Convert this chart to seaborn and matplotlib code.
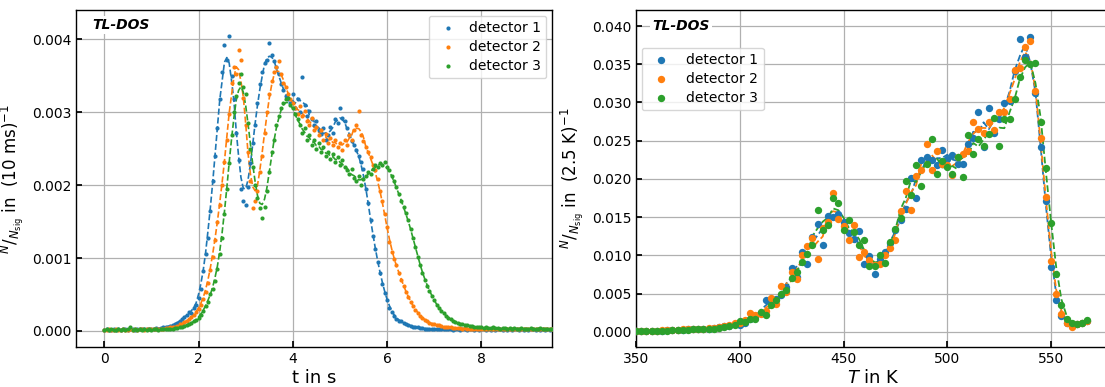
import numpy as np
import pandas as pd
import matplotlib
matplotlib.use("Agg")
import matplotlib.pyplot as plt
import seaborn as sns

# ---------------------------------------------------------------- data
# time-resolved signal, 50 ms sampling grid (s)
t_s = np.arange(191) * 0.05

det1_t = [
    0.00001, 0.00002, 0.00001, 0.00001, 0.00002, 0.00001, 0.00002, 0.00001, 0.00002, 0.00002,
    0.00001, 0.00002, 0.00002, 0.00001, 0.00002, 0.00002, 0.00002, 0.00003, 0.00002, 0.00002,
    0.00003, 0.00003, 0.00004, 0.00003, 0.00004, 0.00005, 0.00005, 0.00006, 0.00007, 0.00008,
    0.00009, 0.00011, 0.00013, 0.00016, 0.00019, 0.00022, 0.00026, 0.00024, 0.00031, 0.00036,
    0.00045, 0.00057, 0.00082, 0.00105, 0.00128, 0.00165, 0.00205, 0.00240, 0.00278, 0.00318,
    0.00355, 0.00392, 0.00372, 0.00405, 0.00350, 0.00318, 0.00272, 0.00235, 0.00195, 0.00178,
    0.00172, 0.00198, 0.00230, 0.00258, 0.00282, 0.00312, 0.00338, 0.00355, 0.00368, 0.00372,
    0.00395, 0.00378, 0.00370, 0.00362, 0.00352, 0.00338, 0.00330, 0.00322, 0.00318, 0.00312,
    0.00325, 0.00305, 0.00318, 0.00300, 0.00348, 0.00310, 0.00295, 0.00302, 0.00290, 0.00282,
    0.00288, 0.00275, 0.00270, 0.00278, 0.00262, 0.00268, 0.00280, 0.00272, 0.00290, 0.00285,
    0.00305, 0.00292, 0.00288, 0.00278, 0.00268, 0.00260, 0.00255, 0.00248, 0.00240, 0.00232,
    0.00222, 0.00195, 0.00175, 0.00152, 0.00130, 0.00112, 0.00095, 0.00080, 0.00065, 0.00052,
    0.00042, 0.00032, 0.00026, 0.00021, 0.00017, 0.00014, 0.00013, 0.00011, 0.00010, 0.00008,
    0.00007, 0.00006, 0.00006, 0.00005, 0.00004, 0.00004, 0.00003, 0.00003, 0.00003, 0.00002,
    0.00002, 0.00003, 0.00002, 0.00002, 0.00003, 0.00002, 0.00002, 0.00002, 0.00001, 0.00002,
    0.00002, 0.00001, 0.00002, 0.00002, 0.00001, 0.00002, 0.00002, 0.00001, 0.00002, 0.00001,
    0.00002, 0.00002, 0.00001, 0.00002, 0.00001, 0.00002, 0.00001, 0.00002, 0.00002, 0.00001,
    0.00002, 0.00001, 0.00002, 0.00001, 0.00002, 0.00002, 0.00001, 0.00002, 0.00001, 0.00002,
    0.00001, 0.00002, 0.00002, 0.00001, 0.00002, 0.00001, 0.00002, 0.00001, 0.00002, 0.00001,
    0.00002,
]

det2_t = [
    0.00001, 0.00001, 0.00002, 0.00001, 0.00001, 0.00002, 0.00001, 0.00001, 0.00002, 0.00001,
    0.00001, 0.00002, 0.00001, 0.00002, 0.00001, 0.00002, 0.00002, 0.00001, 0.00002, 0.00002,
    0.00002, 0.00002, 0.00003, 0.00002, 0.00003, 0.00003, 0.00004, 0.00004, 0.00005, 0.00005,
    0.00006, 0.00007, 0.00009, 0.00010, 0.00012, 0.00014, 0.00016, 0.00019, 0.00022, 0.00026,
    0.00030, 0.00036, 0.00044, 0.00054, 0.00066, 0.00084, 0.00102, 0.00125, 0.00150, 0.00172,
    0.00200, 0.00232, 0.00262, 0.00298, 0.00340, 0.00362, 0.00352, 0.00385, 0.00372, 0.00320,
    0.00282, 0.00245, 0.00205, 0.00168, 0.00178, 0.00192, 0.00218, 0.00240, 0.00272, 0.00300,
    0.00325, 0.00342, 0.00355, 0.00362, 0.00370, 0.00352, 0.00340, 0.00335, 0.00325, 0.00318,
    0.00312, 0.00305, 0.00298, 0.00308, 0.00295, 0.00302, 0.00288, 0.00282, 0.00292, 0.00275,
    0.00280, 0.00268, 0.00275, 0.00262, 0.00270, 0.00258, 0.00265, 0.00255, 0.00262, 0.00252,
    0.00258, 0.00248, 0.00262, 0.00255, 0.00268, 0.00262, 0.00275, 0.00282, 0.00302, 0.00268,
    0.00260, 0.00252, 0.00245, 0.00238, 0.00228, 0.00220, 0.00208, 0.00192, 0.00178, 0.00160,
    0.00142, 0.00122, 0.00108, 0.00098, 0.00090, 0.00080, 0.00070, 0.00062, 0.00054, 0.00046,
    0.00040, 0.00034, 0.00029, 0.00025, 0.00021, 0.00018, 0.00015, 0.00013, 0.00011, 0.00010,
    0.00009, 0.00008, 0.00008, 0.00007, 0.00006, 0.00006, 0.00005, 0.00005, 0.00004, 0.00004,
    0.00004, 0.00004, 0.00003, 0.00004, 0.00003, 0.00003, 0.00003, 0.00002, 0.00003, 0.00003,
    0.00002, 0.00003, 0.00002, 0.00003, 0.00002, 0.00002, 0.00003, 0.00002, 0.00002, 0.00003,
    0.00002, 0.00002, 0.00003, 0.00002, 0.00002, 0.00003, 0.00002, 0.00002, 0.00002, 0.00003,
    0.00002, 0.00002, 0.00003, 0.00002, 0.00002, 0.00002, 0.00003, 0.00002, 0.00002, 0.00002,
    0.00002,
]

det3_t = [
    0.00001, 0.00002, 0.00001, 0.00002, 0.00001, 0.00001, 0.00002, 0.00001, 0.00002, 0.00001,
    0.00002, 0.00006, 0.00001, 0.00002, 0.00001, 0.00002, 0.00001, 0.00002, 0.00001, 0.00002,
    0.00001, 0.00002, 0.00002, 0.00001, 0.00002, 0.00002, 0.00003, 0.00002, 0.00003, 0.00003,
    0.00004, 0.00004, 0.00005, 0.00006, 0.00007, 0.00008, 0.00009, 0.00011, 0.00013, 0.00015,
    0.00018, 0.00022, 0.00028, 0.00034, 0.00040, 0.00050, 0.00058, 0.00068, 0.00085, 0.00105,
    0.00128, 0.00160, 0.00195, 0.00230, 0.00268, 0.00300, 0.00322, 0.00340, 0.00352, 0.00335,
    0.00325, 0.00285, 0.00250, 0.00225, 0.00200, 0.00182, 0.00168, 0.00155, 0.00170, 0.00192,
    0.00218, 0.00245, 0.00262, 0.00282, 0.00295, 0.00305, 0.00312, 0.00318, 0.00320, 0.00310,
    0.00305, 0.00298, 0.00290, 0.00282, 0.00272, 0.00278, 0.00262, 0.00268, 0.00255, 0.00262,
    0.00250, 0.00258, 0.00245, 0.00252, 0.00240, 0.00246, 0.00236, 0.00242, 0.00232, 0.00238,
    0.00228, 0.00234, 0.00225, 0.00220, 0.00215, 0.00222, 0.00210, 0.00205, 0.00212, 0.00200,
    0.00208, 0.00212, 0.00218, 0.00215, 0.00222, 0.00228, 0.00225, 0.00230, 0.00228, 0.00232,
    0.00225, 0.00220, 0.00212, 0.00205, 0.00198, 0.00188, 0.00178, 0.00170, 0.00162, 0.00152,
    0.00140, 0.00128, 0.00115, 0.00102, 0.00090, 0.00080, 0.00070, 0.00062, 0.00055, 0.00048,
    0.00042, 0.00036, 0.00031, 0.00027, 0.00024, 0.00021, 0.00018, 0.00016, 0.00014, 0.00012,
    0.00011, 0.00010, 0.00009, 0.00008, 0.00008, 0.00007, 0.00007, 0.00006, 0.00006, 0.00005,
    0.00005, 0.00004, 0.00005, 0.00004, 0.00004, 0.00005, 0.00004, 0.00004, 0.00003, 0.00004,
    0.00004, 0.00003, 0.00004, 0.00003, 0.00004, 0.00003, 0.00003, 0.00004, 0.00003, 0.00003,
    0.00003, 0.00004, 0.00003, 0.00003, 0.00003, 0.00004, 0.00003, 0.00003, 0.00003, 0.00003,
    0.00003,
]

# glow curve, 2.5 K bins (K)
T_K = 350 + np.arange(88) * 2.5

det1_T = [
    0.0001, 0.0001, 0.0001, 0.0001, 0.0001, 0.0001, 0.0002, 0.0002, 0.0002, 0.0002,
    0.0003, 0.0003, 0.0003, 0.0004, 0.0004, 0.0005, 0.0006, 0.0007, 0.0008, 0.0010,
    0.0009, 0.0012, 0.0017, 0.0019, 0.0024, 0.0041, 0.0038, 0.0043, 0.0048, 0.0058,
    0.0084, 0.0071, 0.0104, 0.0089, 0.0124, 0.0141, 0.0113, 0.0152, 0.0150, 0.0154,
    0.0144, 0.0129, 0.0121, 0.0132, 0.0089, 0.0099, 0.0075, 0.0095, 0.0104, 0.0116,
    0.0133, 0.0146, 0.0161, 0.0201, 0.0175, 0.0225, 0.0229, 0.0225, 0.0218, 0.0238,
    0.0226, 0.0231, 0.0219, 0.0220, 0.0245, 0.0253, 0.0287, 0.0242, 0.0293, 0.0260,
    0.0278, 0.0299, 0.0302, 0.0341, 0.0383, 0.0359, 0.0386, 0.0312, 0.0242, 0.0171,
    0.0085, 0.0042, 0.0021, 0.0012, 0.0008, 0.0010, 0.0011, 0.0014,
]

det2_T = [
    0.0001, 0.0001, 0.0001, 0.0001, 0.0001, 0.0002, 0.0002, 0.0002, 0.0002, 0.0003,
    0.0003, 0.0003, 0.0004, 0.0004, 0.0005, 0.0005, 0.0006, 0.0008, 0.0009, 0.0011,
    0.0012, 0.0015, 0.0024, 0.0022, 0.0023, 0.0027, 0.0044, 0.0036, 0.0060, 0.0052,
    0.0078, 0.0069, 0.0100, 0.0112, 0.0122, 0.0095, 0.0136, 0.0143, 0.0182, 0.0148,
    0.0138, 0.0120, 0.0139, 0.0098, 0.0104, 0.0094, 0.0087, 0.0089, 0.0101, 0.0109,
    0.0120, 0.0158, 0.0184, 0.0159, 0.0204, 0.0212, 0.0246, 0.0211, 0.0237, 0.0220,
    0.0218, 0.0205, 0.0228, 0.0233, 0.0237, 0.0274, 0.0265, 0.0260, 0.0275, 0.0264,
    0.0288, 0.0288, 0.0304, 0.0342, 0.0345, 0.0372, 0.0381, 0.0315, 0.0254, 0.0176,
    0.0093, 0.0049, 0.0023, 0.0012, 0.0006, 0.0010, 0.0011, 0.0014,
]

det3_T = [
    0.0001, 0.0001, 0.0001, 0.0001, 0.0001, 0.0001, 0.0001, 0.0002, 0.0002, 0.0002,
    0.0002, 0.0003, 0.0003, 0.0003, 0.0004, 0.0004, 0.0005, 0.0006, 0.0007, 0.0009,
    0.0014, 0.0013, 0.0017, 0.0017, 0.0026, 0.0022, 0.0035, 0.0041, 0.0050, 0.0055,
    0.0070, 0.0078, 0.0091, 0.0102, 0.0114, 0.0159, 0.0133, 0.0140, 0.0175, 0.0169,
    0.0133, 0.0146, 0.0130, 0.0114, 0.0120, 0.0086, 0.0086, 0.0100, 0.0090, 0.0118,
    0.0135, 0.0149, 0.0197, 0.0179, 0.0218, 0.0191, 0.0220, 0.0252, 0.0206, 0.0224,
    0.0215, 0.0207, 0.0228, 0.0203, 0.0257, 0.0232, 0.0252, 0.0243, 0.0259, 0.0280,
    0.0243, 0.0278, 0.0278, 0.0305, 0.0333, 0.0355, 0.0350, 0.0352, 0.0274, 0.0214,
    0.0142, 0.0076, 0.0035, 0.0016, 0.0012, 0.0010, 0.0011, 0.0015,
]

labels = ["detector 1", "detector 2", "detector 3"]
palette = ["#1f77b4", "#ff7f0e", "#2ca02c"]

# ---------------------------------------------------------------- style
sns.set_theme(style="whitegrid", rc={
    "axes.edgecolor": "black",
    "axes.linewidth": 1.0,
    "grid.color": "#b0b0b0",
    "grid.linewidth": 0.9,
    "xtick.direction": "in",
    "ytick.direction": "in",
    "xtick.bottom": True,
    "ytick.left": True,
    "xtick.major.size": 4,
    "ytick.major.size": 4,
    "xtick.color": "black",
    "ytick.color": "black",
    "xtick.labelsize": 10,
    "ytick.labelsize": 10,
    "axes.labelcolor": "black",
    "text.color": "black",
})
plt.rcParams["font.family"] = ["DejaVu Sans"]
plt.rcParams["mathtext.fontset"] = "dejavusans"

fig = plt.figure(figsize=(11.05, 3.87), dpi=100)
ax1 = fig.add_axes([76 / 1105, 40 / 387, 476 / 1105, 337 / 387])
ax2 = fig.add_axes([636 / 1105, 40 / 387, 475 / 1105, 337 / 387])

frac = "$^{N}/_{N_{\\mathrm{sig}}}$"

# ---------------------------------------------------------------- left: time
df_t = pd.DataFrame({"t": t_s, labels[0]: det1_t, labels[1]: det2_t, labels[2]: det3_t})
for lab, col in zip(labels, palette):
    smooth = df_t[lab].rolling(5, center=True, min_periods=1).mean()
    sns.lineplot(x=df_t["t"], y=smooth, ax=ax1, color=col, linestyle="--",
                 linewidth=1.2, legend=False)
    sns.scatterplot(x=df_t["t"], y=df_t[lab], ax=ax1, color=col, s=9,
                    linewidth=0, label=lab, zorder=3)

ax1.set_xlim(-0.6, 9.5)
ax1.set_ylim(-0.00022, 0.0044)
ax1.set_xticks([0, 2, 4, 6, 8])
ax1.set_yticks([0.000, 0.001, 0.002, 0.003, 0.004])
ax1.yaxis.set_major_formatter(matplotlib.ticker.FormatStrFormatter("%.3f"))
ax1.set_xlabel("t in s", fontsize=13, labelpad=2)
ax1.set_ylabel(frac + " in  $(10\\ \\mathrm{ms})^{-1}$", fontsize=12)
ax1.text(0.034, 0.955, "TL-DOS", transform=ax1.transAxes, fontsize=10,
         fontweight="bold", fontstyle="italic", va="center", ha="left",
         bbox=dict(facecolor="white", edgecolor="none", pad=1.5), zorder=5)
ax1.legend(loc="upper right", fontsize=10, handletextpad=0.5, labelspacing=0.35,
           borderaxespad=0.4, framealpha=0.8)

# ---------------------------------------------------------------- right: temperature
df_T = pd.DataFrame({"T": T_K, labels[0]: det1_T, labels[1]: det2_T, labels[2]: det3_T})
for lab, col in zip(labels, palette):
    smooth = df_T[lab].rolling(3, center=True, min_periods=1).mean()
    sns.lineplot(x=df_T["T"], y=smooth, ax=ax2, color=col, linestyle="--",
                 linewidth=1.3, legend=False)
    sns.scatterplot(x=df_T["T"], y=df_T[lab], ax=ax2, color=col, s=28,
                    linewidth=0, label=lab, zorder=3)

ax2.set_xlim(350, 578.9)
ax2.set_ylim(-0.002, 0.0421)
ax2.set_xticks([350, 400, 450, 500, 550])
ax2.set_yticks(np.arange(0, 0.0401, 0.005))
ax2.yaxis.set_major_formatter(matplotlib.ticker.FormatStrFormatter("%.3f"))
ax2.set_xlabel("$T$ in K", fontsize=13, labelpad=2)
ax2.set_ylabel(frac + " in  $(2.5\\ \\mathrm{K})^{-1}$", fontsize=12)
ax2.text(0.034, 0.953, "TL-DOS", transform=ax2.transAxes, fontsize=10,
         fontweight="bold", fontstyle="italic", va="center", ha="left",
         bbox=dict(facecolor="white", edgecolor="none", pad=1.5), zorder=5)
ax2.legend(loc="upper left", bbox_to_anchor=(0.0, 0.905), fontsize=10,
           labelspacing=0.35, borderaxespad=0.4, framealpha=0.8)

fig.savefig("out.png", dpi=100)
